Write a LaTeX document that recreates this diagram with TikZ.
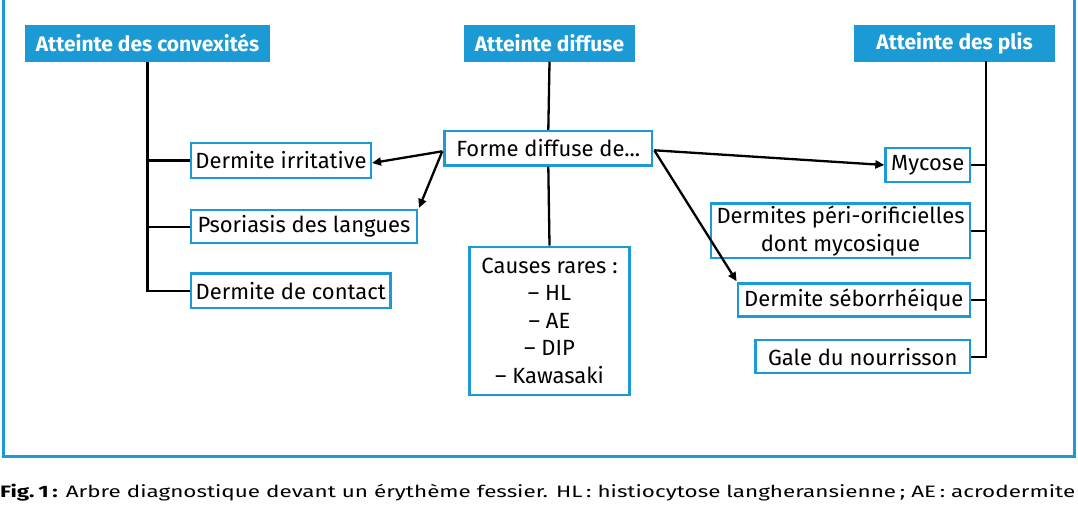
\documentclass[tikz,border=0pt]{standalone}
\usepackage{fontspec}
\setmainfont{Fira Sans}
\usetikzlibrary{arrows.meta,calc}
\definecolor{bleu}{HTML}{1B9AD6}
\begin{document}
\begin{tikzpicture}[x=1pt,y=-1pt,
  hdr/.style={fill=bleu,draw=none,text=white,font=\fontsize{21}{24}\selectfont\bfseries,inner sep=0pt,minimum height=36.5pt},
  box/.style={draw=bleu,line width=2.4pt,fill=white,font=\fontsize{22}{27.5}\selectfont,inner sep=0pt,align=center},
  conn/.style={line width=2.3pt,black},
  arr/.style={conn,-{Triangle[length=9pt,width=8pt]}},
  frame/.style={draw=bleu,line width=3pt}]
\useasboundingbox (0,0) rectangle (1078,516);
\draw[frame] (3,0) -- (3,456.5) -- (1074.5,456.5) -- (1074.5,0);
% headers
\node[hdr,minimum width=245.5pt] (H1) at (147.5,43.3) {Atteinte des convexités};
\node[hdr,minimum width=171pt] (H2) at (549.5,43.3) {Atteinte diffuse};
\node[hdr,minimum width=201pt] (H3) at (954.5,43.3) {Atteinte des plis};
% left boxes
\node[box,minimum width=179.6pt,minimum height=34.6pt] (irr) at (281,160.5) {Dermite irritative};
\node[box,minimum width=225.6pt,minimum height=33.1pt] (pso) at (304,226.7) {Psoriasis des langues};
\node[box,minimum width=199.3pt,minimum height=34.3pt] (con) at (290.8,290.7) {Dermite de contact};
% center
\node[box,minimum width=207.6pt,minimum height=34.3pt] (forme) at (548.3,148.3) {Forme diffuse de...};
\node[box,minimum width=160pt,minimum height=148pt] (causes) at (549.5,320.8) {Causes rares :\\– HL\\– AE\\– DIP\\– Kawasaki};
% right boxes
\node[box,minimum width=84.3pt,minimum height=34.3pt] (myc) at (927.7,165) {Mycose};
\node[box,minimum width=258.6pt,minimum height=54.6pt] (peri) at (840.5,230.8) {Dermites péri-orificielles\\dont mycosique};
\node[box,minimum width=231.9pt,minimum height=33pt] (seb) at (853.8,300) {Dermite séborrhéique};
\node[box,minimum width=214.3pt,minimum height=33pt] (gale) at (862.7,356.7) {Gale du nourrisson};
% left tree
\draw[conn] (H1.south) -- (H1.south |- con.west) -- (con.west);
\draw[conn] (H1.south |- irr.west) -- (irr.west);
\draw[conn] (H1.south |- pso.west) -- (pso.west);
% center tree
\draw[conn] (H2.south) -- (forme.north);
\draw[conn] (forme.south) -- (causes.north);
% right tree
\coordinate (rtop) at (986,61.5);
\draw[conn] (rtop) -- (rtop |- gale.east) -- (gale.east);
\draw[conn] (rtop |- myc.east) -- (myc.east);
\draw[conn] (rtop |- peri.east) -- (peri.east);
\draw[conn] (rtop |- seb.east) -- (seb.east);
% arrows
\coordinate (fw) at ($(forme.west)+(-1,3)$);
\coordinate (fe) at ($(forme.east)+(1,2)$);
\draw[arr] (fw) -- ($(irr.east)+(0,2.5)$);
\draw[arr] (fw) -- ($(pso.north east)+(1,-1)$);
\draw[arr] (fe) -- ($(myc.west)+(0,0)$);
\draw[arr] (fe) -- ($(seb.north west)+(0,-1)$);
% caption
\node[anchor=base west,inner sep=0pt] (cap) at (0,497) {\resizebox{1075pt}{\height}{\fontsize{16.5}{19}\selectfont\textbf{Fig.\,1\,:} Arbre diagnostique devant un érythème fessier. HL\,: histiocytose langheransienne\,; AE\,: acrodermite}};
\end{tikzpicture}
\end{document}
